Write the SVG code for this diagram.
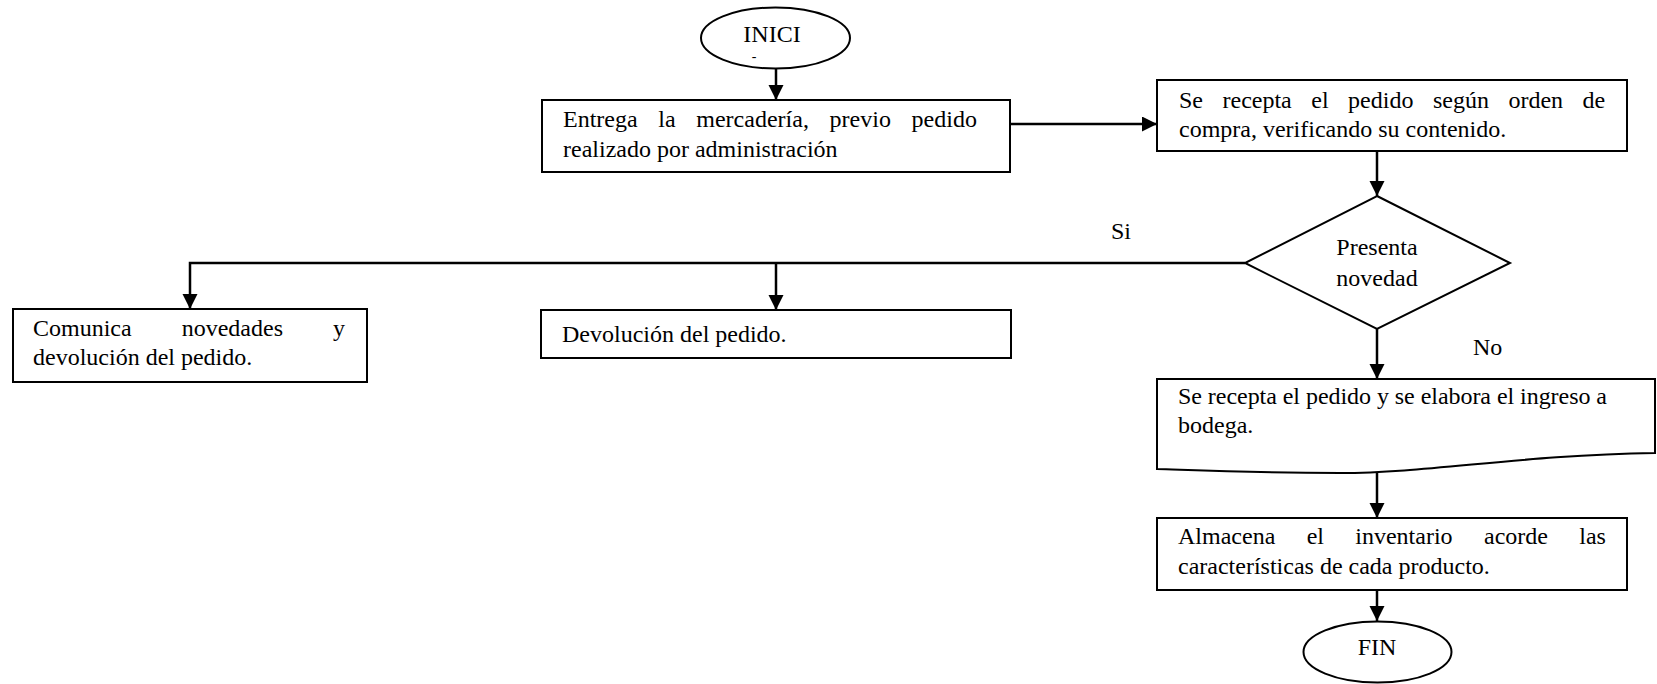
<svg xmlns="http://www.w3.org/2000/svg" width="1657" height="684" viewBox="0 0 1657 684">
  <defs>
    <marker id="arrow" markerUnits="userSpaceOnUse" markerWidth="16" markerHeight="16" refX="15" refY="7.5" orient="auto">
      <path d="M0,0 L15,7.5 L0,15 z" fill="#000"/>
    </marker>
    <style>
      .shape { fill: #fff; stroke: #000; stroke-width: 2; }
      .conn { fill: none; stroke: #000; stroke-width: 2.5; }
      .arrow { marker-end: url(#arrow); }
      text { font-family: "Liberation Serif", "Times New Roman", serif; font-size: 24px; fill: #000; }
      .mid { text-anchor: middle; }
    </style>
  </defs>
  <rect width="1657" height="684" fill="#fff"/>

  <!-- connectors -->
  <g id="connectors">
    <path class="conn arrow" d="M776,68 V100"/>
    <path class="conn arrow" d="M1010,124 H1157"/>
    <path class="conn arrow" d="M1377,150 V196"/>
    <path class="conn arrow" d="M1245,263 H190 V309"/>
    <path class="conn arrow" d="M776,263 V310"/>
    <path class="conn arrow" d="M1377,329 V379"/>
    <path class="conn arrow" d="M1377,473 V518"/>
    <path class="conn arrow" d="M1377,590 V621"/>
    <text x="1111" y="239">Si</text>
    <text x="1473" y="355">No</text>
  </g>

  <!-- start -->
  <g id="inicio">
    <ellipse class="shape" cx="775.5" cy="38" rx="74.5" ry="30.5"/>
    <text x="772" y="42" class="mid">INICI</text>
    <text x="754" y="61" class="mid" style="font-size:14px">-</text>
  </g>

  <!-- delivery of goods -->
  <g id="entrega">
    <rect class="shape" x="542" y="100" width="468" height="72"/>
    <text y="127"><tspan x="563">Entrega</tspan><tspan x="658.3">la</tspan><tspan x="696.3">mercadería,</tspan><tspan x="829.6">previo</tspan><tspan x="911.6">pedido</tspan></text>
    <text x="563" y="157">realizado por administración</text>
  </g>

  <!-- order reception -->
  <g id="recepcion">
    <rect class="shape" x="1157" y="80" width="470" height="71"/>
    <text y="108"><tspan x="1179">Se</tspan><tspan x="1222.5">recepta</tspan><tspan x="1311.3">el</tspan><tspan x="1348.1">pedido</tspan><tspan x="1432.9">según</tspan><tspan x="1508.4">orden</tspan><tspan x="1582.5">de</tspan></text>
    <text x="1179" y="137">compra, verificando su contenido.</text>
  </g>

  <!-- decision -->
  <g id="decision">
    <polygon class="shape" points="1377,196 1510,263 1377,329 1245,263"/>
    <text x="1377" y="255" class="mid">Presenta</text>
    <text x="1377" y="286" class="mid">novedad</text>
  </g>

  <!-- report issues -->
  <g id="comunica">
    <rect class="shape" x="13" y="309" width="354" height="73"/>
    <text y="336"><tspan x="33">Comunica</tspan><tspan x="181.7">novedades</tspan><tspan x="333">y</tspan></text>
    <text x="33" y="365">devolución del pedido.</text>
  </g>

  <!-- return -->
  <g id="devolucion">
    <rect class="shape" x="541" y="310" width="470" height="48"/>
    <text x="562" y="342">Devolución del pedido.</text>
  </g>

  <!-- warehouse entry (document) -->
  <g id="ingreso">
    <path class="shape" d="M1157,379 H1655 V453 C1520,455 1430,473 1340,473 C1250,473 1190,470 1157,469 Z"/>
    <text x="1178" y="404" textLength="429" lengthAdjust="spacing">Se recepta el pedido y se elabora el ingreso a</text>
    <text x="1178" y="433">bodega.</text>
  </g>

  <!-- storage -->
  <g id="almacena">
    <rect class="shape" x="1157" y="518" width="470" height="72"/>
    <text y="544"><tspan x="1178">Almacena</tspan><tspan x="1306.7">el</tspan><tspan x="1355.3">inventario</tspan><tspan x="1484">acorde</tspan><tspan x="1579.3">las</tspan></text>
    <text x="1178" y="574">características de cada producto.</text>
  </g>

  <!-- end -->
  <g id="fin">
    <ellipse class="shape" cx="1377.5" cy="652" rx="74" ry="30.5"/>
    <text x="1377" y="655" class="mid">FIN</text>
  </g>
</svg>
